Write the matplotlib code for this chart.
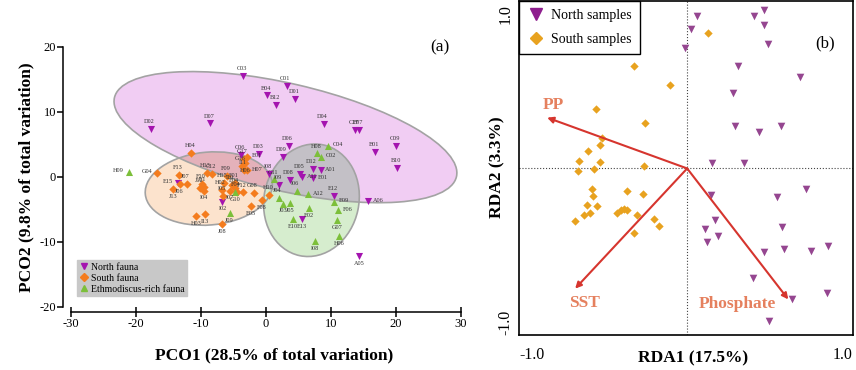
import numpy as np
import matplotlib
matplotlib.use('Agg')
import matplotlib.pyplot as plt
from matplotlib.patches import Ellipse
from matplotlib.lines import Line2D

plt.rcParams['font.family'] = ['Liberation Serif', 'DejaVu Serif']
plt.rcParams['axes.unicode_minus'] = False

# ---------------- (a) PCO ordination ----------------
north_names = ['C03', 'C01', 'B04', 'B12', 'D01', 'D02', 'D07', 'D04', 'C17', 'B07',
               'C09', 'B01', 'B10', 'D06', 'D09', 'C06', 'D03', 'I08', 'I09', 'D08',
               'D05', 'A11', 'D12', 'A01', 'E01', 'E12', 'A06', 'E13', 'A05', 'I02', 'E15']
north_x = [-3.5, 3.2, 0.2, 1.6, 4.5, -17.7, -8.6, 8.9, 13.7, 14.3,
           20.0, 16.8, 20.2, 3.5, 2.6, -3.8, -1.0, 0.5, 2.0, 3.7,
           5.3, 5.5, 7.2, 8.4, 7.3, 10.5, 15.7, 5.5, 14.3, -6.7, -13.5]
north_y = [15.5, 14.0, 12.5, 11.1, 12.0, 7.4, 8.2, 8.1, 7.2, 7.2,
           4.7, 3.8, 1.4, 4.8, 3.1, 3.4, 3.5, 0.5, -1.2, -0.5,
           0.4, -0.1, 1.2, 1.0, -0.2, -2.9, -3.7, -6.5, -12.2, -3.8, -1.0]

south_names = ['H04', 'G04', 'F13', 'J13', 'J06', 'J07', 'H13', 'C12', 'F10', 'J11',
               'I04', 'J12', 'H03', 'I13', 'J08', 'G17', 'H06', 'G16', 'E01', 'I11',
               'H07', 'F09', 'H15', 'H02', 'I05', 'F01', 'E04', 'F04', 'F12', 'E05',
               'F08', 'H10', 'G08', 'I07', 'I10']
south_x = [-11.5, -16.7, -13.4, -14.3, -13.3, -12.2, -9.1, -8.3, -9.9, -9.6,
           -9.5, -10.1, -10.7, -9.4, -6.7, -3.4, -3.2, -3.7, -2.9, -3.4,
           -2.9, -6.0, -6.5, -6.8, -6.6, -4.8, -4.7, -4.5, -3.5, -2.3,
           -0.6, 0.5, -1.9, -5.6, -5.3]
south_y = [3.7, 0.6, 0.3, -1.9, -1.1, -1.1, 0.6, 0.5, -1.1, -1.5,
           -2.1, -1.7, -6.0, -5.7, -7.2, 2.7, 2.1, 1.7, 3.1, 1.0,
           1.0, 0.1, -1.0, -2.0, -2.9, -1.0, -1.7, -2.3, -2.4, -4.5,
           -3.6, -2.8, -2.5, -2.1, -1.2]

eth_names = ['H09', 'C04', 'H08', 'C02', 'G11', 'I06', 'A12', 'J04', 'J03', 'J05',
             'E02', 'E09', 'F06', 'G07', 'E10', 'H06', 'I08', 'G10', 'J09']
eth_x = [-21.1, 9.5, 7.9, 8.5, 1.3, 4.7, 6.5, 2.0, 2.6, 3.7,
         6.6, 10.5, 11.1, 10.9, 4.2, 11.3, 7.6, -4.7, -5.6]
eth_y = [0.8, 4.8, 3.6, 3.1, -0.4, -2.2, -2.7, -3.3, -4.1, -4.0,
         -4.8, -3.8, -5.1, -6.6, -6.5, -9.1, -9.9, -2.3, -5.6]

# group outlines: centre x, centre y, width, height, angle
group_ellipses = [(3.0, 6.1, 54.0, 16.5, -13.0),
                  (-8.8, -1.8, 19.6, 11.2, 5.0),
                  (7.0, -3.6, 14.6, 17.4, -12.0)]

# ---------------- (b) RDA ----------------
rda_north_x = [0.063, 0.023, -0.012, 0.428, 0.492, 0.492, 0.520, 0.327, 0.723, 0.295,
               0.308, 0.462, 0.601, 0.160, 0.363, 0.762, 0.578, 0.155, 0.177, 0.113,
               0.198, 0.128, 0.612, 0.496, 0.625, 0.794, 0.906, 0.423, 0.676, 0.901, 0.524]
rda_north_y = [0.990, 0.902, 0.785, 0.990, 1.027, 0.930, 0.807, 0.667, 0.591, 0.488,
               0.278, 0.235, 0.278, 0.037, 0.037, -0.132, -0.186, -0.170, -0.337, -0.395,
               -0.440, -0.477, -0.380, -0.542, -0.524, -0.535, -0.505, -0.708, -0.850, -0.811, -0.988]
rda_south_x = [0.136, -0.344, -0.110, -0.588, -0.273, -0.546, -0.561, -0.638, -0.698, -0.558,
               -0.278, -0.702, -0.599, -0.610, -0.387, -0.286, -0.606, -0.644, -0.580, -0.627,
               -0.663, -0.723, -0.451, -0.428, -0.408, -0.385, -0.323, -0.213, -0.181, -0.344]
rda_south_y = [0.882, 0.662, 0.542, 0.386, 0.293, 0.198, 0.153, 0.112, 0.047, 0.041,
               0.015, -0.019, -0.002, -0.132, -0.147, -0.166, -0.181, -0.235, -0.244, -0.289,
               -0.300, -0.341, -0.287, -0.272, -0.261, -0.268, -0.304, -0.330, -0.375, -0.419]
env_names = ['PP', 'SST', 'Phosphate']
env_x = [-0.90, -0.72, 0.65]
env_y = [0.33, -0.78, -0.85]

# styles
c_north, c_south, c_eth = '#A414AF', '#F47C1E', '#7CBF3A'
ell_faces = ['#F1CDF3', '#FCE3CD', '#D6EDCE']
ov_north_south = '#E4B1BA'
ov_north_eth = '#C3C0C6'
below = {'J08', 'I02', 'A05', 'E10', 'E13', 'I08', 'G07', 'H06', 'J03', 'J05', 'J13',
         'J06', 'I04', 'H03', 'I13', 'F08', 'E05', 'G10', 'J09', 'I07', 'E02'}
right = {'C04', 'C02', 'A01', 'A06', 'E09', 'F06', 'A12', 'H07', 'E01', 'A11'}
left = {'H09', 'G04', 'E15'}

fig = plt.figure(figsize=(8.56, 3.70), dpi=100)

ax = fig.add_axes([0.0829, 0.1703, 0.4556, 0.7035])
fills = []
for (cx, cy, w, h, ang), fc in zip(group_ellipses, ell_faces):
    p = Ellipse((cx, cy), w, h, angle=ang, facecolor=fc, edgecolor='none', zorder=1)
    ax.add_patch(p)
    fills.append(p)
# overlaps of the north outline with the other two
for (cx, cy, w, h, ang), fc in zip(group_ellipses[1:], [ov_north_south, ov_north_eth]):
    ov = Ellipse((cx, cy), w, h, angle=ang, facecolor=fc, edgecolor='none', zorder=1.5)
    ax.add_patch(ov)
    ov.set_clip_path(fills[0])
for (cx, cy, w, h, ang) in group_ellipses:
    ax.add_patch(Ellipse((cx, cy), w, h, angle=ang, facecolor='none',
                         edgecolor='#A3A3A3', lw=1.2, zorder=2))

ax.scatter(north_x, north_y, marker='v', s=26, color=c_north, lw=0, zorder=3)
ax.scatter(south_x, south_y, marker='D', s=18, color=c_south, lw=0, zorder=3)
ax.scatter(eth_x, eth_y, marker='^', s=26, color=c_eth, lw=0, zorder=3)

for names, xs, ys in [(north_names, north_x, north_y), (south_names, south_x, south_y),
                      (eth_names, eth_x, eth_y)]:
    for n, x, y in zip(names, xs, ys):
        if n in below and names is not north_names or (n in below and n in ('I02', 'A05', 'E13')):
            off, ha, va = (0, -3.5), 'center', 'top'
        elif n in right:
            off, ha, va = (3.5, 0.5), 'left', 'center'
        elif n in left:
            off, ha, va = (-3.5, 1), 'right', 'center'
        else:
            off, ha, va = (-1, 3.5), 'center', 'bottom'
        ax.annotate(n, (x, y), xytext=off, textcoords='offset points', ha=ha, va=va,
                    fontsize=4.5, color='#333333', zorder=4)

ax.set_xlim(-30, 30)
ax.set_ylim(-20, 20)
ax.set_xticks([-30, -20, -10, 0, 10, 20, 30])
ax.set_yticks([-20, -10, 0, 10, 20])
for s in ['top', 'right']:
    ax.spines[s].set_visible(False)
ax.spines['left'].set_position(('outward', 5.8))
ax.spines['bottom'].set_position(('outward', 3.6))
ax.spines['left'].set_linewidth(1.1)
ax.spines['bottom'].set_linewidth(1.1)
ax.tick_params(axis='x', direction='inout', length=7, width=1.1, labelsize=9, pad=1)
ax.tick_params(axis='y', direction='out', length=4, width=1.1, labelsize=9, pad=1)
ax.text(0.946, 0.999, '(a)', transform=ax.transAxes, ha='center', va='center', fontsize=12.5)

h_a = [Line2D([], [], marker='v', ls='', color=c_north, markersize=5),
       Line2D([], [], marker='D', ls='', color=c_south, markersize=4),
       Line2D([], [], marker='^', ls='', color=c_eth, markersize=5)]
leg = ax.legend(h_a, ['North fauna', 'South fauna', 'Ethmodiscus-rich fauna'],
                loc='lower left', bbox_to_anchor=(0.015, 0.042), borderaxespad=0,
                fontsize=7, handlelength=0.9, handletextpad=0.3, labelspacing=0.2,
                borderpad=0.25, fancybox=False, framealpha=1)
leg.get_frame().set_facecolor('#C8C8C8')
leg.get_frame().set_edgecolor('#C8C8C8')

fig.text(0.3207, 0.0387, 'PCO1 (28.5% of total variation)', ha='center', va='center',
         fontsize=12.5, fontweight='bold')
fig.text(0.0304, 0.5216, 'PCO2 (9.8% of total variation)', ha='center', va='center',
         rotation=90, fontsize=12.5, fontweight='bold')

# ---------------- (b) ----------------
bx = fig.add_axes([0.6063, 0.0946, 0.3902, 0.9027])
bx.axhline(0, color='#444444', ls=':', lw=0.8, zorder=1)
bx.axvline(0, color='#444444', ls=':', lw=0.8, zorder=1)
bx.scatter(rda_north_x, rda_north_y, marker='v', s=30, color='#954690', lw=0, zorder=3)
bx.scatter(rda_south_x, rda_south_y, marker='D', s=18, color='#E8A21F', lw=0, zorder=3)

lab_off = [(4.5, 9), (6.7, -10), (-37, -3.5)]
for n, x, y, off in zip(env_names, env_x, env_y, lab_off):
    bx.annotate('', xy=(x, y), xytext=(0, 0),
                arrowprops=dict(arrowstyle='-|>', color='#D6352E', lw=1.5,
                                mutation_scale=9, shrinkA=0, shrinkB=0), zorder=4)
    bx.annotate(n, (x, y), xytext=off, textcoords='offset points', ha='center', va='center',
                fontsize=12.5, fontweight='bold', color='#E5805E', zorder=5)

bx.set_xlim(-1.081, 1.066)
bx.set_ylim(-1.081, 1.087)
bx.set_xticks([-1, 1])
bx.set_xticklabels(['-1.0', '1.0'])
bx.set_yticks([-1, 1])
bx.set_yticklabels(['-1.0', '1.0'], rotation=90, va='center')
bx.tick_params(axis='x', length=0, labelsize=11.5, pad=9)
bx.tick_params(axis='y', length=0, labelsize=11.5, pad=4)
for s in bx.spines.values():
    s.set_linewidth(1.2)
bx.text(0.916, 0.874, '(b)', transform=bx.transAxes, ha='center', va='center', fontsize=12)

h_b = [Line2D([], [], marker='v', ls='', color='#8E1E8E', markersize=8),
       Line2D([], [], marker='D', ls='', color='#E8A21F', markersize=6)]
leg2 = bx.legend(h_b, ['North samples', 'South samples'], loc='upper left',
                 bbox_to_anchor=(0, 1), borderaxespad=0, fontsize=10, handlelength=1.2,
                 handletextpad=0.5, labelspacing=0.75, borderpad=0.6, fancybox=False,
                 framealpha=1)
leg2.get_frame().set_edgecolor('black')
leg2.get_frame().set_linewidth(1.0)

fig.text(0.8096, 0.0324, 'RDA1 (17.5%)', ha='center', va='center', fontsize=12.5,
         fontweight='bold')
fig.text(0.5806, 0.5486, 'RDA2 (3.3%)', ha='center', va='center', rotation=90,
         fontsize=12.5, fontweight='bold')

fig.savefig('out.png', dpi=100)
